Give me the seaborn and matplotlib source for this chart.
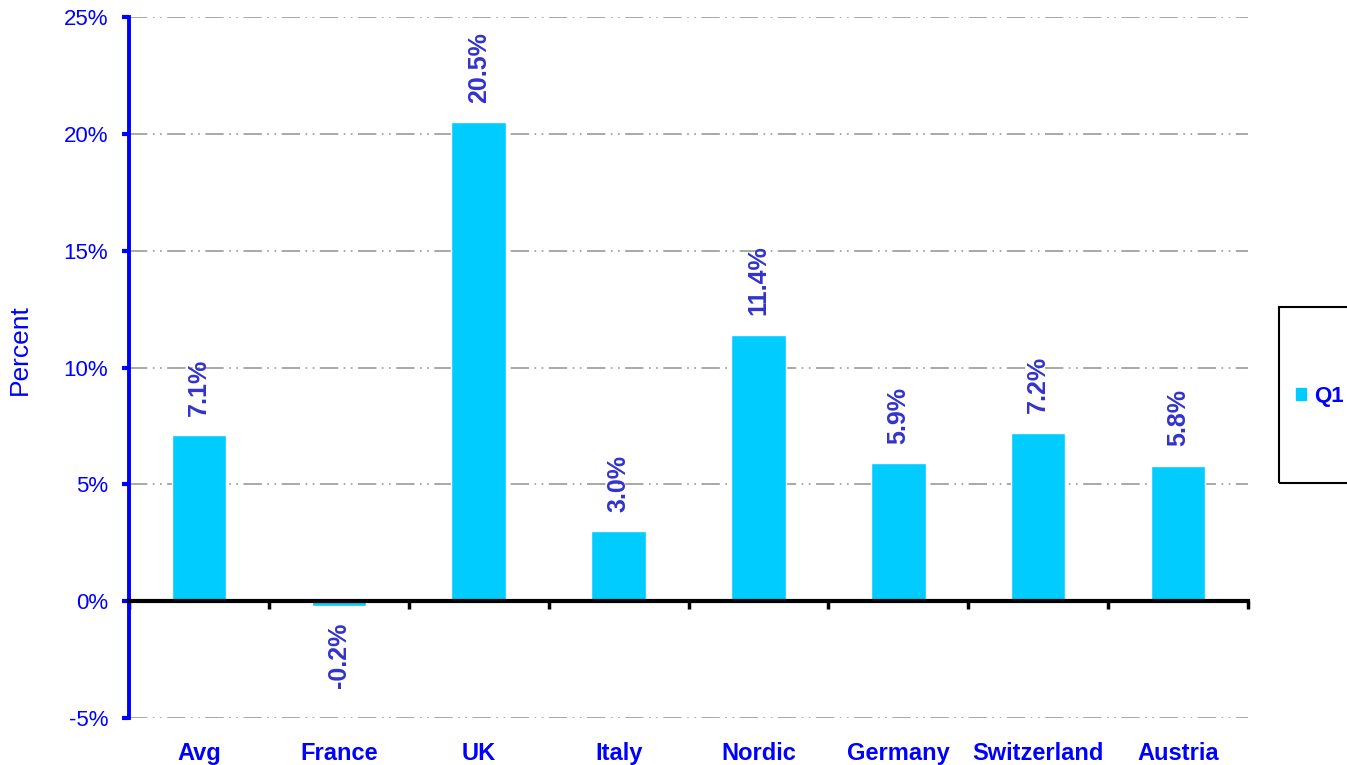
import matplotlib
matplotlib.use("Agg")
import matplotlib.pyplot as plt
import matplotlib.ticker as mticker
from matplotlib.patches import Patch, Rectangle
import seaborn as sns
import pandas as pd

# Data (percent)
regions = ['Avg', 'France', 'UK', 'Italy', 'Nordic', 'Germany', 'Switzerland', 'Austria']
q1_values = [7.1, -0.2, 20.5, 3.0, 11.4, 5.9, 7.2, 5.8]
series_name = 'Q1'
y_ticks = [-5, 0, 5, 10, 15, 20, 25]

BAR = '#00CCFF'
BLUE = '#0000FF'
LABEL = '#3333CC'


def main():
    df = pd.DataFrame({'region': regions, 'value': q1_values})

    sns.set_theme(style='white')
    plt.rcParams['font.family'] = ['Liberation Sans', 'DejaVu Sans']
    plt.rcParams['axes.unicode_minus'] = False

    fig = plt.figure(figsize=(13.47, 7.65), dpi=100)
    ax = fig.add_axes([0.0958, 0.0614, 0.8307, 0.9164])

    sns.barplot(data=df, x='region', y='value', color=BAR, width=0.39,
                saturation=1, ax=ax)

    ax.set_xlim(-0.5, len(regions) - 0.5)
    ax.set_ylim(y_ticks[0], y_ticks[-1])
    ax.set_yticks(y_ticks)
    ax.yaxis.set_major_formatter(mticker.FuncFormatter(lambda v, p: f'{v:.0f}%'))

    # dash-dot-dot grid
    ax.set_axisbelow(True)
    ax.yaxis.grid(True, color='#999999', linewidth=1.2,
                  linestyle=(0, (11, 3.3, 1, 3.3, 1, 3.3)))
    ax.xaxis.grid(False)

    # spines: blue left, black zero line, nothing else
    for side in ['top', 'right']:
        ax.spines[side].set_visible(False)
    ax.spines['left'].set_color(BLUE)
    ax.spines['left'].set_linewidth(2.8)
    ax.spines['bottom'].set_position(('data', 0))
    ax.spines['bottom'].set_color('black')
    ax.spines['bottom'].set_linewidth(3)

    ax.tick_params(axis='y', colors=BLUE, length=5, width=3, labelsize=16,
                   pad=10, left=True)
    ax.set_xticks([i - 0.5 for i in range(len(regions) + 1)], minor=True)
    ax.tick_params(axis='x', which='minor', bottom=True, length=6, width=2.5,
                   color='black', direction='out')
    ax.tick_params(axis='x', which='major', length=0, labelbottom=False)
    ax.set_xlabel('')

    # category labels along the bottom edge
    sec = ax.secondary_xaxis('bottom')
    sec.set_xticks(range(len(regions)), labels=regions)
    sec.spines['bottom'].set_visible(False)
    sec.tick_params(length=0, pad=17, labelsize=17, labelcolor=BLUE)
    for lbl in sec.get_xticklabels():
        lbl.set_fontweight('bold')

    ax.set_ylabel('Percent', color=BLUE, fontsize=19)
    ax.yaxis.set_label_coords(-0.087, 0.525)

    # value labels
    for i, v in enumerate(q1_values):
        off = 14 if v >= 0 else -12
        ax.annotate(f'{v:.1f}%', xy=(i, v), xytext=(0, off),
                    textcoords='offset points', rotation=90,
                    ha='center', va='bottom' if v >= 0 else 'top',
                    fontsize=18, fontweight='bold', color=LABEL)

    # legend with tall box on the right edge
    fig.add_artist(Rectangle((1279 / 1347, 1 - 483 / 765), 0.1, 176 / 765,
                             transform=fig.transFigure, fill=False,
                             edgecolor='black', linewidth=1.5))
    fig.legend(handles=[Patch(color=BAR, label=series_name)],
               loc='center left', bbox_to_anchor=(1276 / 1347, 1 - 396 / 765),
               frameon=False, handlelength=0.45, handleheight=0.45,
               handletextpad=0.35, labelcolor=BLUE,
               prop={'weight': 'bold', 'size': 16})

    fig.savefig('out.png', dpi=100)


if __name__ == '__main__':
    main()
